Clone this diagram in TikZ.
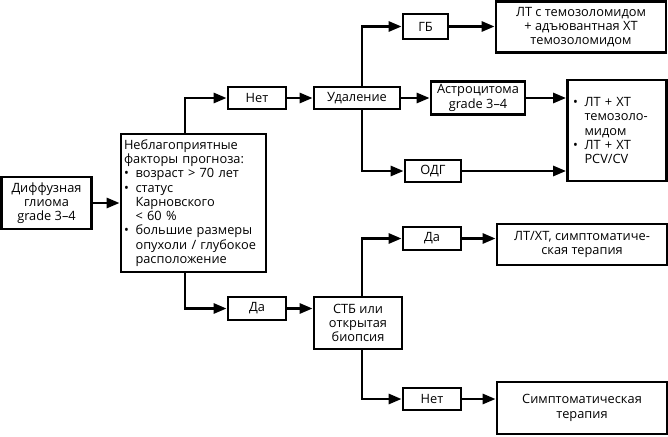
\documentclass[tikz,border=0pt]{standalone}
\usepackage{fontspec}
\setmainfont{Open Sans}
\usetikzlibrary{arrows.meta}
\newcommand{\itm}{\makebox[0.9em][l]{•}}
\newcommand{\ind}{\hspace*{0.9em}}

\begin{document}
\begin{tikzpicture}[x=1pt,y=-1pt,
	box/.style={draw,line width=2.8pt,inner sep=2pt,font=\fontsize{12.8}{14.3}\selectfont},
	arr/.style={line width=2.8pt,-{Triangle[length=13pt,width=10pt]}}]
\useasboundingbox (0,0) rectangle (668,436);
\node[box,minimum width=90,minimum height=52,align=center] (diff) at (46.5,203)
	{Диффузная\\глиома\\grade 3--4};
\node[box,minimum width=145,minimum height=138,align=left,text width=139] (risk) at (193.5,203)
	{Неблагоприятные\\факторы прогноза:\\\itm возраст > 70 лет\\\itm статус\\\ind Карновского\\\ind < 60 \%\\\itm большие размеры\\\ind опухоли / глубокое\\\ind расположение};
\node[box,minimum width=58,minimum height=22] (netA) at (257,98) {Нет};
\node[box,minimum width=86,minimum height=22] (del) at (357,98) {Удаление};
\node[box,minimum width=45,minimum height=25] (gb) at (425.5,26.5) {ГБ};
\node[box,minimum width=170,minimum height=51,align=center] (gbtx) at (581,27)
	{ЛТ с темозоломидом\\+ адъювантная ХТ\\темозоломидом};
\node[box,minimum width=94,minimum height=33,align=center] (astro) at (478,98)
	{Астроцитома\\grade 3--4};
\node[box,minimum width=99,minimum height=101,align=left,text width=88] (chemo) at (617,130.5)
	{\itm ЛТ + ХТ\\\ind темозоло-\\\ind мидом\\\itm ЛТ + ХТ\\\ind PCV/CV};
\node[box,minimum width=56,minimum height=22] (odg) at (433,171) {ОДГ};
\node[box,minimum width=58,minimum height=23] (daA) at (257,308.5) {Да};
\node[box,minimum width=88,minimum height=52,align=center] (stb) at (358,323)
	{СТБ или\\открытая\\биопсия};
\node[box,minimum width=58,minimum height=23] (daB) at (432,238.5) {Да};
\node[box,minimum width=170,minimum height=41,align=center] (symA) at (582,244.5)
	{ЛТ/ХТ, симптоматиче-\\ская терапия};
\node[box,minimum width=58,minimum height=22] (netB) at (432,399) {Нет};
\node[box,minimum width=170,minimum height=52,align=center] (symB) at (582,408)
	{Симптоматическая\\терапия};
\draw[arr] (diff) -- (risk);
\draw[arr] ([xshift=-8.5pt]risk.north) |- (netA);
\draw[arr] ([xshift=-8.5pt]risk.south) |- (daA);
\draw[arr] (netA) -- (del);
\draw[arr] ([xshift=5pt]del.north) |- (gb);
\draw[arr] ([xshift=5pt]del.south) |- (odg);
\draw[arr] (del) -- (astro);
\draw[arr] (gb) -- (gb -| gbtx.west);
\draw[arr] (astro) -- (astro -| chemo.west);
\draw[arr] (odg) -- (odg -| chemo.west);
\draw[arr] (daA) -- (daA -| stb.west);
\draw[arr] ([xshift=4pt]stb.north) |- (daB);
\draw[arr] ([xshift=4pt]stb.south) |- (netB);
\draw[arr] (daB) -- (daB -| symA.west);
\draw[arr] (netB) -- (netB -| symB.west);
\end{tikzpicture}
\end{document}
